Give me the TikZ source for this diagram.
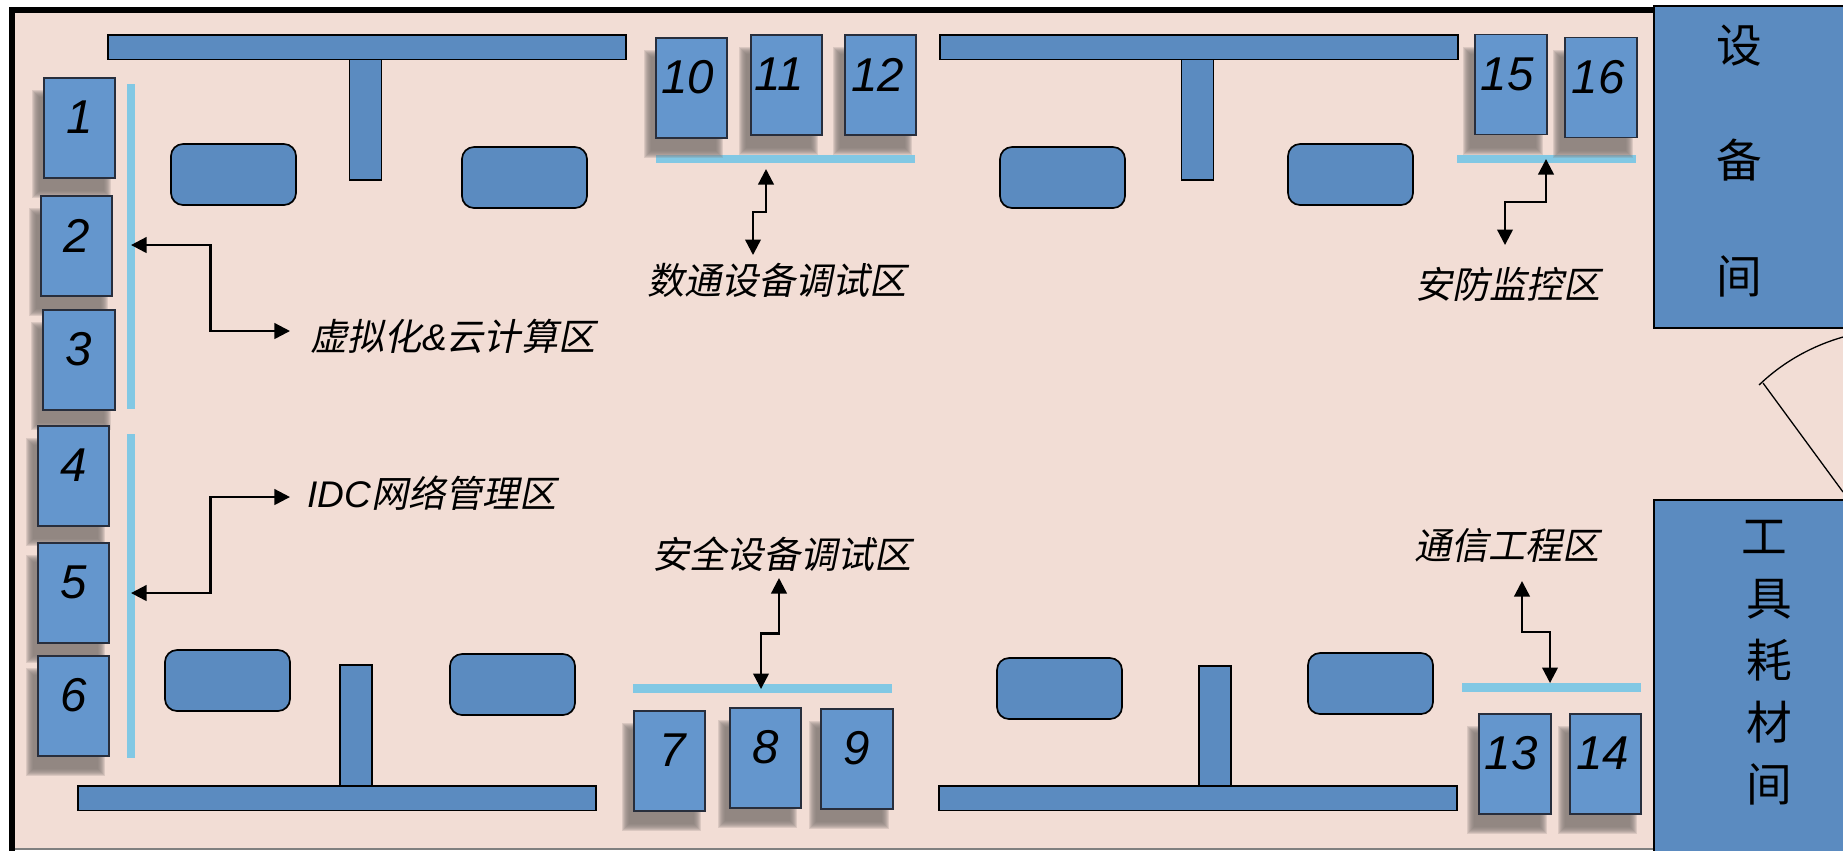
\documentclass[tikz,border=0pt]{standalone}
\usepackage{fontspec}
\setmainfont{Liberation Sans}
\newfontfamily\cjk[FakeSlant=0.2]{Noto Sans CJK SC}
\newfontfamily\cjkup{Noto Sans CJK SC}
\usetikzlibrary{arrows.meta}
\usetikzlibrary{calc}
\definecolor{hall}{RGB}{242,221,213}
\definecolor{bluefurn}{RGB}{91,139,192}
\definecolor{bluerack}{RGB}{100,150,205}
\definecolor{rackline}{RGB}{40,46,60}
\definecolor{barblue}{RGB}{130,200,228}
\definecolor{shade}{RGB}{133,123,120}
\newcommand{\zh}[1]{{\cjk #1}}
\tikzset{
	furn/.style={fill=bluefurn, draw=black, line width=0.017cm},
	desk/.style={furn, rounded corners=0.12cm},
	rack/.style={fill=bluerack, draw=rackline, line width=0.017cm, minimum width=0.715cm, minimum height=1cm, inner sep=0pt},
	rackshade/.style={fill=shade, fill opacity=0.22},
	racknum/.style={inner sep=0pt, font=\fontsize{13.5}{15}\selectfont\itshape},
	zone/.style={inner sep=0pt, font=\fontsize{10.55}{13}\selectfont\itshape},
	roomname/.style={inner sep=0pt, align=center},
	link/.style={line width=0.024cm, <->},
}

\begin{document}
\begin{tikzpicture}[x=0.01cm, y=-0.01cm, >={Triangle[length=0.155cm, width=0.155cm]}]

	\useasboundingbox (0,0) rectangle (1843,850);

	% hall
	\fill[hall] (12,10) rectangle (1843,850);
	\draw[gray, line width=0.012cm] (12,849) -- (1843,849);
	\draw[black, line width=0.06cm] (12,853) |- (1660,10);

	% walls with stems
	\foreach \x/\y in {349.5/59, 1181.5/59, 340/665, 1199/666}
		\draw[furn] (\x,\y) rectangle ++ (32,121);
	\foreach \x/\y in {108/35, 940/35, 78/786, 939/786}
		\draw[furn] (\x,\y) rectangle ++ (518,24.5);

	% desks
	\foreach \x/\y in {171/144, 462/147, 1000/147, 1288/144, 165/650, 450/654, 997/658, 1308/653}
		\draw[desk] (\x,\y) rectangle ++ (125,61);

	% bars
	\fill[barblue] (126.5,84) rectangle (135,409);
	\fill[barblue] (126.5,434) rectangle (135,758);
	\fill[barblue] (656,155) rectangle (915,163);
	\fill[barblue] (1457,155) rectangle (1636,163);
	\fill[barblue] (633,684) rectangle (892,693);
	\fill[barblue] (1462,683) rectangle (1641,692);

	% racks
	\foreach \n/\x/\y/\d in {1/79.5/128/0, 2/76.5/246/0, 3/79/360/0, 4/73.5/476/0, 5/73.5/593/0, 6/73.5/706/0,
			7/669.5/761/3, 8/765.5/758/0, 9/857/759/0, 10/691.5/88/-4, 11/786.5/85/-7, 12/880.5/85/-3,
			13/1515/764/-4, 14/1605.5/764/-3, 15/1511/84.5/-4, 16/1601/87.5/-3} {
		\foreach \s in {-4,-3,...,3}
			\fill[rackshade] (\x-43.75+\s,\y-34+\s) rectangle (\x+27.75-\s,\y+66-\s);
		\node[rack] (r\n) at (\x,\y) {};
		\node[racknum] (n\n) at ($(r\n)+(\d,-10.5)$) {\n};
	}

	% rooms
	\draw[furn] (1654,6) rectangle (1850,328);
	\draw[furn] (1654,500) rectangle (1850,860);
	\node[roomname, font=\fontsize{13}{1.15cm}\selectfont\cjkup] (devroom) at (1739,161) {设\\备\\间};
	\node[roomname, font=\fontsize{13}{0.62cm}\selectfont\cjkup] (toolroom) at (1769,663) {工\hspace*{0.1cm}\\具\\耗\\材\\间};

	% door
	\draw[line width=0.013cm] (1759,385) .. controls (1785,360) and (1815,345) .. (1843,337);
	\draw[line width=0.013cm] (1763,383) -- (1843,492);

	% zones
	\node[zone] (cloud) at (453,336) {\zh{虚拟化}\&\zh{云计算区}};
	\node[zone] (idc) at (432,493) {IDC\zh{网络管理区}};
	\node[zone] (datacom) at (777,280) {\zh{数通设备调试区}};
	\node[zone] (security) at (782,554) {\zh{安全设备调试区}};
	\node[zone] (monitor) at (1508,284) {\zh{安防监控区}};
	\node[zone] (telecom) at (1507,545) {\zh{通信工程区}};

	% arrows
	\coordinate (a1) at (131,245);
	\coordinate (a2) at (290,331);
	\coordinate (b1) at (131,593);
	\coordinate (b2) at (290,497);
	\coordinate (c1) at (766,169);
	\coordinate (c2) at (753,255);
	\coordinate (d1) at (779,578);
	\coordinate (d2) at (761,689);
	\coordinate (e1) at (1546,159);
	\coordinate (e2) at (1505,245);
	\coordinate (f1) at (1522,581);
	\coordinate (f2) at (1550,683);
	\draw[link] (a1) -| ($(a1)!0.5!(a2)$) |- (a2);
	\draw[link] (b1) -| ($(b1)!0.5!(b2)$) |- (b2);
	\foreach \p/\q in {c1/c2, d1/d2, e1/e2, f1/f2}
		\draw[link] (\p) |- ($(\p)!0.5!(\q)$) -| (\q);

\end{tikzpicture}
\end{document}
